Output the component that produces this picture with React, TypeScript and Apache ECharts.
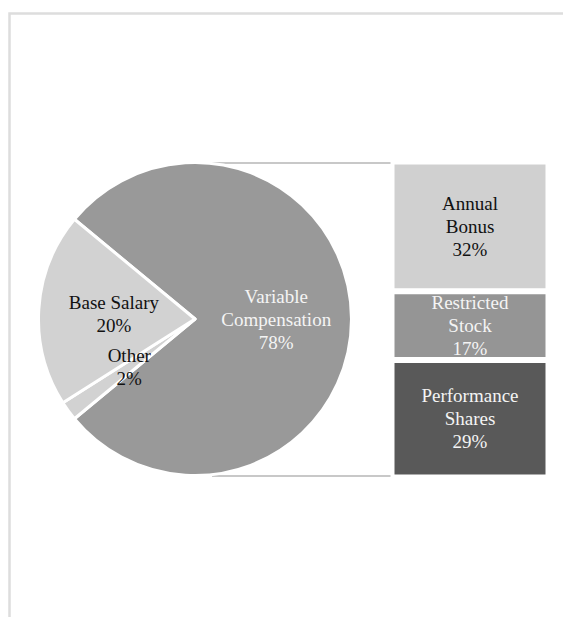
import React, { useEffect, useRef } from "react";
import * as echarts from "echarts";

// ---- data ----
const pieNames = ["Variable Compensation", "Other", "Base Salary"];
const pieLabels = ["Variable\nCompensation", "Other", "Base Salary"];
const pieValues = [78, 2, 20];
const pieColors = ["#999999", "#d2d2d2", "#d2d2d2"];
const pieLabelColors = ["#f4f4f4", "#111111", "#111111"];

// stacked bar, listed top to bottom
const barNames = ["Annual Bonus", "Restricted Stock", "Performance Shares"];
const barLabels = ["Annual\nBonus", "Restricted\nStock", "Performance\nShares"];
const barValues = [32, 17, 29];
const barColors = ["#d0d0d0", "#959595", "#595959"];
const barLabelColors = ["#111111", "#f4f4f4", "#f4f4f4"];

// ---- layout ----
const W = 563;
const H = 617;
const PIE_CX = 195;
const PIE_CY = 319;
const PIE_R = 156.5;
const BAR_LEFT = 391.5;
const BAR_W = 157;
const BAR_TOP = 161.5;
const BAR_H = 316;
const FONT = "'Liberation Serif', 'Times New Roman', serif";

export default function App() {
  const ref = useRef<HTMLDivElement>(null);

  useEffect(() => {
    if (!ref.current) return;
    const chart = echarts.init(ref.current, null, { renderer: "svg" });
    const total = barValues.reduce((a, b) => a + b, 0);
    const variableShare = pieValues[0] / pieValues.reduce((a, b) => a + b, 0);
    const startAngle = (variableShare * 360) / 2;

    const barSeries = barNames
      .map((name, i) => ({
        name,
        type: "bar",
        stack: "v",
        barWidth: "100%",
        data: [barValues[i]],
        itemStyle: { color: barColors[i], borderColor: "#ffffff", borderWidth: 3 },
        label: {
          show: true,
          position: "inside",
          formatter: () => `${barLabels[i]}\n${barValues[i]}%`,
          color: barLabelColors[i],
          fontFamily: FONT,
          fontSize: 19,
          lineHeight: 23,
          align: "center",
        },
        emphasis: { disabled: true },
      }))
      .reverse();

    const topY = BAR_TOP + 1.5;
    const botY = BAR_TOP + BAR_H - 1.5;

    chart.setOption({
      animation: false,
      backgroundColor: "#ffffff",
      grid: { left: BAR_LEFT, top: BAR_TOP, width: BAR_W, height: BAR_H, containLabel: false },
      xAxis: { type: "category", data: ["Variable Compensation"], show: false },
      yAxis: { type: "value", min: 0, max: total, show: false },
      graphic: [
        {
          type: "rect",
          silent: true,
          shape: { x: 9.5, y: 13.5, width: W + 50, height: H + 50 },
          style: { fill: "none", stroke: "#dddddd", lineWidth: 2.5 },
        },
        {
          type: "line",
          silent: true,
          shape: { x1: PIE_CX + 17, y1: topY, x2: BAR_LEFT - 1, y2: topY },
          style: { stroke: "#c8c8c8", lineWidth: 2 },
        },
        {
          type: "line",
          silent: true,
          shape: { x1: PIE_CX + 17, y1: botY, x2: BAR_LEFT - 1, y2: botY },
          style: { stroke: "#c8c8c8", lineWidth: 2 },
        },
      ],
      series: [
        {
          type: "pie",
          center: [PIE_CX, PIE_CY],
          radius: [0, PIE_R],
          startAngle,
          clockwise: true,
          avoidLabelOverlap: false,
          emphasis: { disabled: true },
          labelLine: { show: false },
          data: pieNames.map((name, i) => ({
            name,
            value: pieValues[i],
            itemStyle: { color: pieColors[i], borderColor: "#ffffff", borderWidth: 3 },
            label: {
              show: true,
              position: "inside",
              formatter: `${pieLabels[i]}\n${pieValues[i]}%`,
              color: pieLabelColors[i],
              fontFamily: FONT,
              fontSize: 19,
              lineHeight: 23,
              align: "center",
            },
          })),
        },
        ...barSeries,
      ],
    });
    return () => chart.dispose();
  }, []);

  return (
    <div
      ref={ref}
      style={{ position: "absolute", left: 0, top: 0, width: W, height: H }}
    />
  );
}
